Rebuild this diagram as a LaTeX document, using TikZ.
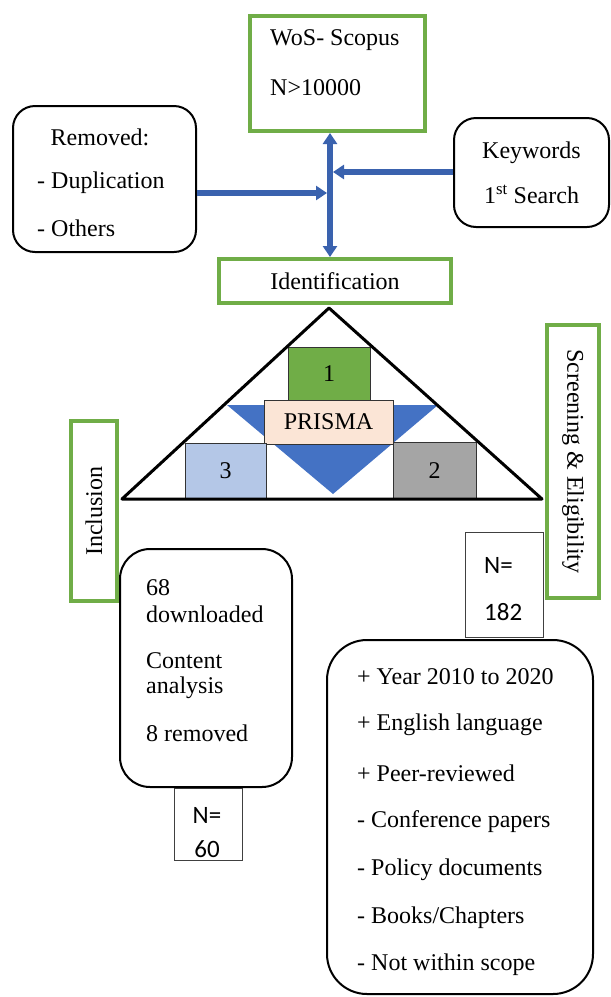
\documentclass[tikz,border=0pt]{standalone}
\usepackage{fontspec}
\setmainfont{Liberation Serif}
\newfontfamily\calibri{Carlito}
\usetikzlibrary{arrows.meta}
\definecolor{stagegreen}{HTML}{70AD47}
\definecolor{flowblue}{HTML}{3A62AE}
\definecolor{triblue}{HTML}{4472C4}
\definecolor{peach}{HTML}{FBE5D6}
\definecolor{lightblue}{HTML}{B4C7E7}
\definecolor{midgray}{HTML}{A5A5A5}
\newcommand{\tribox}[4][]{\node[draw=black!80,line width=0.8pt,#1] at (#2) (#3) {#4}}
\tikzset{flowtip/.tip={Triangle[length=11pt,width=14pt]}}

\begin{document}
\begin{tikzpicture}[x=1pt,y=-1pt,inner sep=0,font=\fontsize{24}{28}\selectfont,
	greenbox/.style={draw=stagegreen,line width=4pt,fill=white},
	roundbox/.style={draw=black,line width=2pt,rounded corners=22pt,fill=white},
	nbox/.style={draw=black!75,line width=1pt,fill=white},
	ncount/.style={anchor=west,font=\calibri\fontsize{25}{30}\selectfont},
	flow/.style={draw=flowblue,line width=6pt}]
	\useasboundingbox (0,0) rectangle (611,997);
	
	% search and identification
	\node[greenbox,minimum width=175,minimum height=115] at (337.5,73.5) (wos) {};
	\node[anchor=west] at (270,40) (wosname) {WoS- Scopus};
	\node[anchor=west] at (270,88) (wosn) {N>10000};
	
	\node[roundbox,minimum width=183,minimum height=146] at (104.5,179) (removed) {};
	\node at (100,137) (remhead) {Removed:};
	\node[anchor=west] at (37,183) (remdup) {- Duplication};
	\node[anchor=west] at (37,228) (remoth) {- Others};
	
	\node[roundbox,minimum width=155,minimum height=109,align=center,font=\fontsize{24}{45}\selectfont] at (531.5,172.5) (keywords) {Keywords\\1\textsuperscript{st} Search};
	
	\node[greenbox,minimum width=232,minimum height=44] at (335,281) (ident) {Identification};
	
	\coordinate (vline) at (330,190);
	\coordinate (hubL) at (327,193);
	\coordinate (hubR) at (333,172);
	\draw[flow,flowtip-flowtip] (wos.south -| vline) -- (ident.north -| vline);
	\draw[flow,-flowtip] (removed.east |- hubL) -- (hubL);
	\draw[flow,-flowtip] (keywords.west |- hubR) -- (hubR);
	
	% prisma triangle
	\coordinate (apex) at (329,308);
	\coordinate (baseL) at (122,499);
	\coordinate (baseR) at (542,499);
	\fill[triblue] (227,405) -- (438,405) -- (333,494) -- cycle;
	\tribox[fill=stagegreen,minimum width=82,minimum height=53]{329,373.5}{step1}{1};
	\tribox[fill=peach,minimum width=129,minimum height=44]{328.5,422}{prisma}{PRISMA};
	\tribox[fill=lightblue,minimum width=81,minimum height=56]{225.5,471}{step3}{3};
	\tribox[fill=midgray,minimum width=83,minimum height=57]{434.5,470.5}{step2}{2};
	\draw[line width=3pt,line join=round] (apex) -- (baseL) -- (baseR) -- cycle;
	
	\node[greenbox,rotate=90,minimum width=180,minimum height=46] at (94,511) (inclusion) {Inclusion};
	\node[greenbox,rotate=-90,minimum width=273,minimum height=52] at (573,461.5) (screening) {Screening \& Eligibility};
	
	% screening counts
	\node[nbox,minimum width=78,minimum height=105] at (504.5,585) (n182) {};
	\node[ncount] at (484,565) (n182a) {N=};
	\node[ncount] at (484,612) (n182b) {182};
	
	\node[roundbox,rounded corners=40pt,minimum width=266,minimum height=354] at (460,817) (criteria) {};
	\node[anchor=west] at (357,677) (crit1) {+ Year 2010 to 2020};
	\node[anchor=west] at (357,725) (crit2) {+ English language};
	\node[anchor=west] at (357,773) (crit3) {+ Peer-reviewed};
	\node[anchor=west] at (357,822) (crit4) {- Conference papers};
	\node[anchor=west] at (357,870) (crit5) {- Policy documents};
	\node[anchor=west] at (357,918) (crit6) {- Books/Chapters};
	\node[anchor=west] at (357,965) (crit7) {- Not within scope};
	
	% inclusion counts
	\node[nbox,minimum width=68,minimum height=72] at (208.5,824) (n60) {};
	\node[ncount,anchor=center] at (207,815) (n60a) {N=};
	\node[ncount,anchor=center] at (207,849) (n60b) {60};
	
	\node[roundbox,rounded corners=30pt,minimum width=172,minimum height=238] at (206,668) (download) {};
	\node[anchor=west] at (146,588) (dl1) {68};
	\node[anchor=west] at (146,614) (dl2) {downloaded};
	\node[anchor=west] at (146,661) (dl3) {Content};
	\node[anchor=west] at (146,688) (dl4) {analysis};
	\node[anchor=west] at (146,733) (dl5) {8 removed};
\end{tikzpicture}
\end{document}
